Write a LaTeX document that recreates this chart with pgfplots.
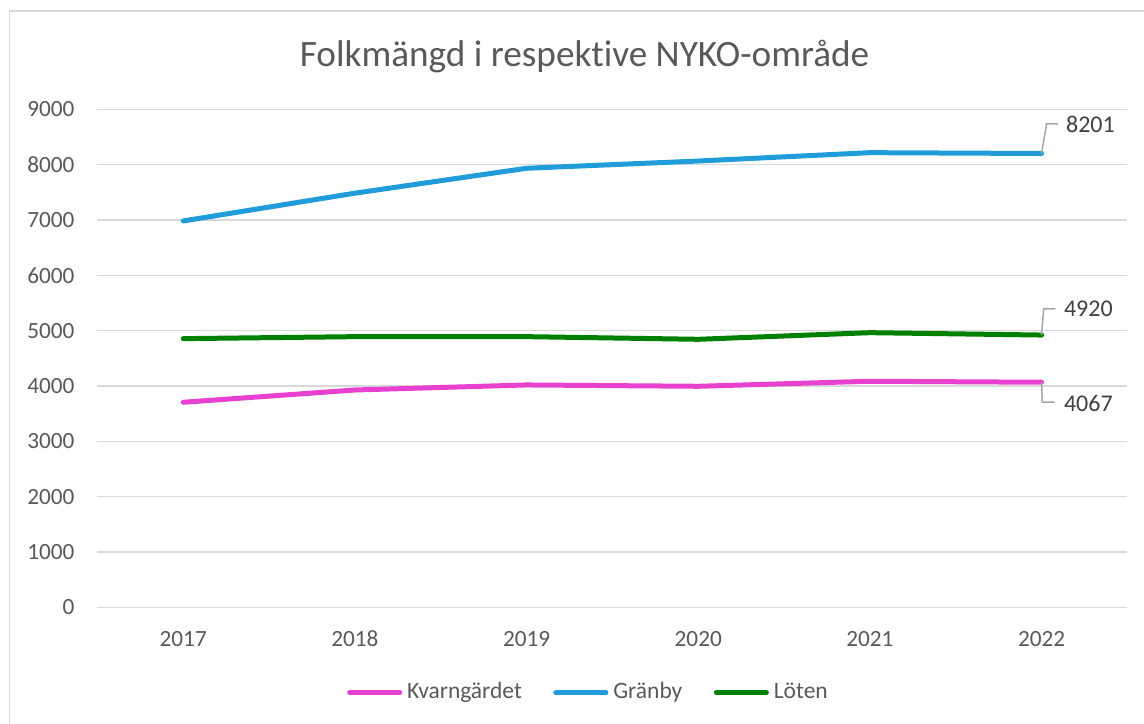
\documentclass[border=0pt]{standalone}
\usepackage{pgfplots}
\pgfplotsset{compat=1.18}
\usepackage{fontspec}
\setmainfont{Carlito}[Ligatures=NoCommon]
\definecolor{kvcol}{HTML}{E841D0}
\definecolor{grcol}{HTML}{1F9CD9}
\definecolor{locol}{HTML}{008000}
\definecolor{gridc}{HTML}{D9D9D9}
\definecolor{tickc}{HTML}{595959}
\definecolor{labc}{HTML}{404040}
\definecolor{leadc}{HTML}{A6A6A6}
\begin{document}
\begin{tikzpicture}[x=0.4pt,y=0.4pt]
\path[use as bounding box] (0,0) rectangle (1144,724);
\draw[gridc, line width=0.6pt] (9.5,-20) -- (9.5,713) -- (1160,713);
\node[anchor=base, font=\fontsize{14.9}{17}\selectfont, text=tickc, inner sep=0pt] at (584.5,657.3) {Folkmängd i respektive NYKO-område};
\begin{axis}[
  at={(38.96pt,46.68pt)}, anchor=south west, scale only axis,
  width=412pt, height=199.2pt,
  xmin=-0.5, xmax=5.5, ymin=0, ymax=9000,
  clip=false,
  axis line style={draw=none},
  major tick length=0pt,
  ymajorgrids, grid style={gridc, line width=0.6pt},
  xtick={0,1,2,3,4,5}, xticklabels={2017,2018,2019,2020,2021,2022},
  ytick={0,1000,...,9000},
  /pgf/number format/assume math mode=true,
  /pgf/number format/1000 sep={},
  ticklabel style={font=\fontsize{9.3}{11}\selectfont, text=tickc},
  xticklabel style={anchor=center, inner sep=0pt, yshift=-12.7pt},
  yticklabel style={anchor=east, inner sep=0pt, xshift=-9pt},
  legend columns=3,
  legend style={draw=none, fill=none, at={(0.4746,-0.1715)}, anchor=center,
    font=\fontsize{9.4}{11}\selectfont, text=tickc,
    column sep=0pt,
    /tikz/every even column/.append style={column sep=11.6pt},
    nodes={inner sep=0pt}},
  legend image code/.code={\draw[#1, line width=2pt, line cap=round] (1pt,0pt) -- (21pt,0pt); \path (0pt,0pt) (23pt,0pt);},
]
\addplot[kvcol, line width=2pt, line join=round, line cap=round] coordinates {(0,3705) (1,3927) (2,4018) (3,3994) (4,4085) (5,4067)};
\addlegendentry{Kvarngärdet}
\addplot[grcol, line width=2pt, line join=round, line cap=round] coordinates {(0,6982) (1,7484) (2,7934) (3,8065) (4,8216) (5,8201)};
\addlegendentry{Gränby}
\addplot[locol, line width=2pt, line join=round, line cap=round] coordinates {(0,4855) (1,4891) (2,4891) (3,4843) (4,4963) (5,4920)};
\addlegendentry{Löten}
\draw[leadc, line width=0.6pt] (axis cs:5,8201) -- (axis cs:5.029,8736) -- (axis cs:5.095,8736);
\node[anchor=west, inner sep=0pt, font=\fontsize{9.6}{11}\selectfont, text=labc] at (axis cs:5.14,8726) {8201};
\draw[leadc, line width=0.6pt] (axis cs:5,4920) -- (axis cs:5.012,5391) -- (axis cs:5.080,5391);
\node[anchor=west, inner sep=0pt, font=\fontsize{9.6}{11}\selectfont, text=labc] at (axis cs:5.128,5391) {4920};
\draw[leadc, line width=0.6pt] (axis cs:5,4067) -- (axis cs:5.004,3710) -- (axis cs:5.076,3710);
\node[anchor=west, inner sep=0pt, font=\fontsize{9.6}{11}\selectfont, text=labc] at (axis cs:5.128,3692) {4067};
\end{axis}
\end{tikzpicture}
\end{document}
